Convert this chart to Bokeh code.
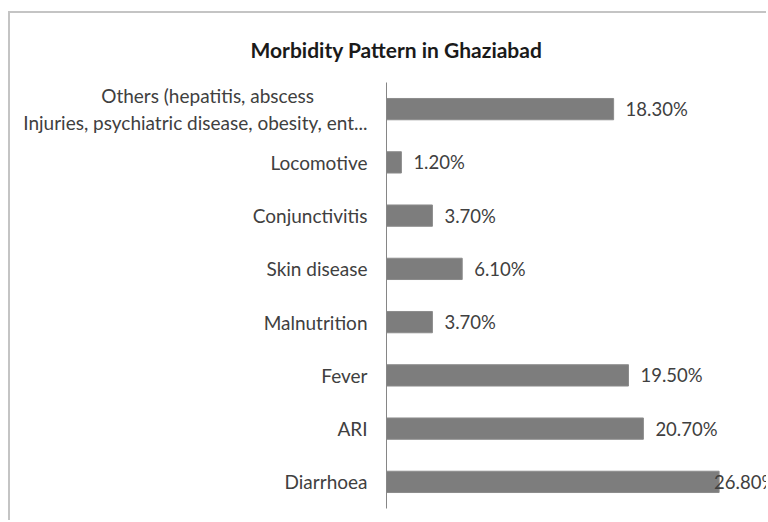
from bokeh.plotting import figure
from bokeh.models import ColumnDataSource, FactorRange, Range1d, LabelSet
from bokeh.core.properties import value
from bokeh.embed import file_html
from bokeh.resources import INLINE

title_text = "Morbidity Pattern in Ghaziabad"
categories = [
    "Diarrhoea",
    "ARI",
    "Fever",
    "Malnutrition",
    "Skin disease",
    "Conjunctivitis",
    "Locomotive",
    "Others (hepatitis, abscess" + "\u00a0" * 11 + "\nInjuries, psychiatric disease, obesity, ent...",
]
values = [26.8, 20.7, 19.5, 3.7, 6.1, 3.7, 1.2, 18.3]
value_labels = ["26.80%", "20.70%", "19.50%", "3.70%", "6.10%", "3.70%", "1.20%", "18.30%"]

FONT = "Lato"
TEXT_COLOR = "#404040"
X_MAX = 30.78

# labels that would not fit to the right of their bar are pulled back onto the bar end
offsets = [12 if v < 25 else -5 for v in values]

src = ColumnDataSource(dict(cat=categories, val=values, lab=value_labels, xoff=offsets))

p = figure(
    width=758, height=509,
    y_range=FactorRange(*categories, range_padding=0),
    x_range=Range1d(0, X_MAX),
    output_backend="svg", toolbar_location=None,
    min_border_left=376, min_border_right=0, min_border_top=68, min_border_bottom=14,
)
p.styles = {"margin-left": "8px", "margin-top": "11px",
            "border-left": "2px solid #c4c4c4", "border-top": "2px solid #c4c4c4"}

p.hbar(y="cat", right="val", left=0, height=0.4, source=src,
       fill_color="#7d7d7d", line_color="#8c8c8c", line_width=1)

labels = LabelSet(x="val", y="cat", text="lab", source=src, x_offset="xoff",
                  text_baseline="middle", text_font=value(FONT),
                  text_font_size="18.5px", text_color=TEXT_COLOR)
p.add_layout(labels)

p.xaxis.visible = False
p.xgrid.visible = False
p.ygrid.visible = False
p.outline_line_color = None
yax = p.yaxis[0]
yax.axis_line_color = "#868686"
yax.major_tick_line_color = None
yax.minor_tick_line_color = None
yax.major_label_standoff = 13
yax.major_label_text_font = FONT
yax.major_label_text_font_size = "19px"
yax.major_label_text_color = TEXT_COLOR

p.title.text = title_text
p.title.align = "left"
p.title.offset = -136
p.title.standoff = 42
p.title.text_font = FONT
p.title.text_font_size = "21px"
p.title.text_font_style = "bold"
p.title.text_color = "#1a1a1a"

open("out.html", "w").write(file_html(p, INLINE))
